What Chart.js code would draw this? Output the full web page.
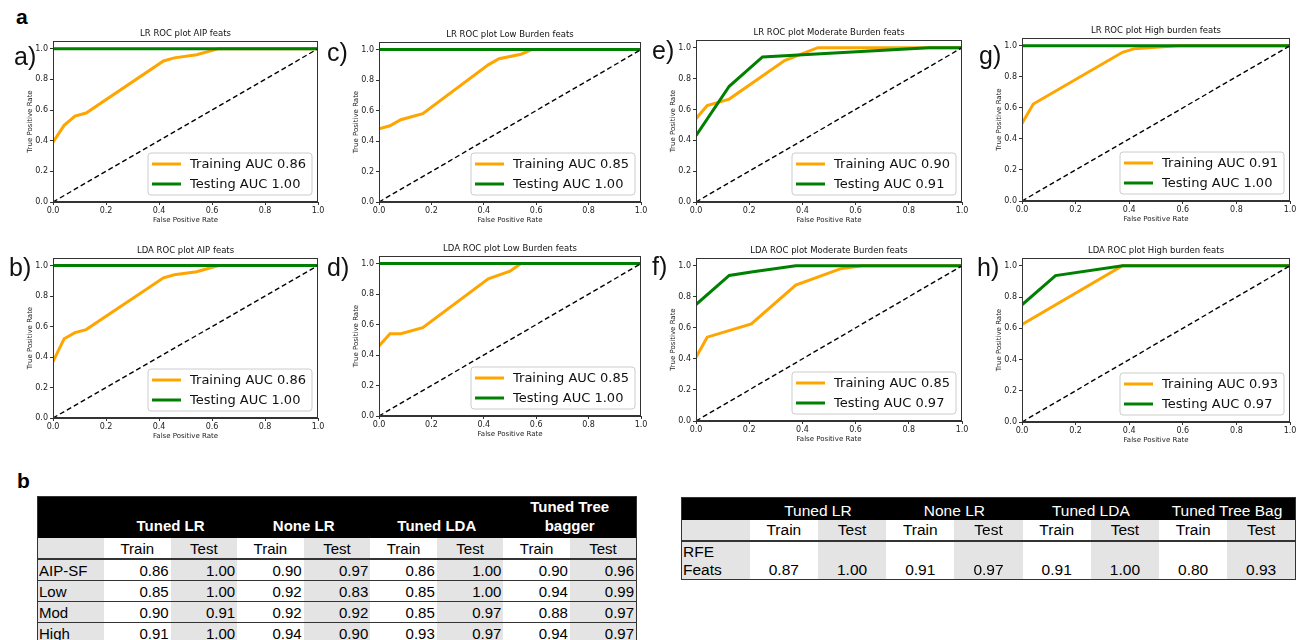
<!DOCTYPE html>
<html>
<head>
<meta charset="utf-8">
<script src="https://cdn.jsdelivr.net/npm/chart.js@4.4.1/dist/chart.umd.min.js"></script>
<style>
body { margin:0; background:#fff; width:1308px; height:640px; overflow:hidden; position:relative; font-family:"Liberation Sans", Arial, sans-serif; }
.pane { position:absolute; }
.pane canvas { display:block; }
.tag { position:absolute; font-size:25px; line-height:1; color:#111; }
.sec { position:absolute; font-size:21px; line-height:1; font-weight:bold; color:#000; }
table { position:absolute; border-collapse:collapse; table-layout:fixed; border:1.5px solid #333; color:#000; }
td { padding:0 2px; overflow:hidden; white-space:nowrap; }
.hd td { background:#000; color:#fff; text-align:center; vertical-align:bottom; }
.sub td { text-align:center; border-bottom:2px solid #333; }
.gray { background:#e4e4e4; }
#tblB td { font-size:15px; }
#tblB .hd td { font-weight:bold; line-height:19px; padding-bottom:3px; white-space:pre-line; }
#tblB .row td { border-bottom:1px solid #333; text-align:right; height:20px; }
#tblB .row td.name { text-align:left; padding-left:1px; }
#tblC td { font-size:15.5px; }
#tblC .hd td { height:22px; }
#tblC .row td { text-align:center; vertical-align:bottom; height:37px; line-height:18px; }
#tblC .row td.name { text-align:left; padding-left:1px; white-space:pre-line; }
</style>
</head>
<body>
<div class="sec" style="left:16px;top:6px;">a</div>
<div class="sec" style="left:17px;top:470px;">b</div>

<script>
// ROC curves (false positive rate, true positive rate)
const tickVals = [0, 0.2, 0.4, 0.6, 0.8, 1.0];
const chanceLine = [0, 1];

const lrAipTrainFpr = [0, 0.042, 0.083, 0.125, 0.417, 0.458, 0.542, 0.625, 1];
const lrAipTrainTpr = [0.39, 0.50, 0.56, 0.58, 0.92, 0.94, 0.96, 1, 1];
const lrAipTestFpr = [0, 1];
const lrAipTestTpr = [1, 1];

const lrLowTrainFpr = [0, 0.042, 0.083, 0.167, 0.417, 0.458, 0.542, 0.583, 1];
const lrLowTrainTpr = [0.48, 0.50, 0.54, 0.58, 0.90, 0.94, 0.97, 1, 1];
const lrLowTestFpr = [0, 1];
const lrLowTestTpr = [1, 1];

const lrModTrainFpr = [0, 0.042, 0.125, 0.333, 0.458, 1];
const lrModTrainTpr = [0.54, 0.625, 0.667, 0.917, 1, 1];
const lrModTestFpr = [0, 0.125, 0.25, 0.875, 1];
const lrModTestTpr = [0.43, 0.75, 0.94, 1, 1];

const lrHighTrainFpr = [0, 0.042, 0.375, 0.417, 0.583, 1];
const lrHighTrainTpr = [0.50, 0.625, 0.958, 0.98, 1, 1];
const lrHighTestFpr = [0, 1];
const lrHighTestTpr = [1, 1];

const ldaAipTrainFpr = [0, 0.042, 0.083, 0.125, 0.417, 0.458, 0.542, 0.625, 1];
const ldaAipTrainTpr = [0.37, 0.52, 0.56, 0.58, 0.92, 0.94, 0.96, 1, 1];
const ldaAipTestFpr = [0, 1];
const ldaAipTestTpr = [1, 1];

const ldaLowTrainFpr = [0, 0.042, 0.083, 0.167, 0.417, 0.5, 0.542, 1];
const ldaLowTrainTpr = [0.46, 0.54, 0.54, 0.58, 0.90, 0.95, 1, 1];
const ldaLowTestFpr = [0, 1];
const ldaLowTestTpr = [1, 1];

const ldaModTrainFpr = [0, 0.042, 0.208, 0.375, 0.542, 0.625, 1];
const ldaModTrainTpr = [0.41, 0.54, 0.625, 0.875, 0.98, 1, 1];
const ldaModTestFpr = [0, 0.125, 0.208, 0.375, 1];
const ldaModTestTpr = [0.75, 0.9375, 0.96, 1, 1];

const ldaHighTrainFpr = [0, 0.375, 1];
const ldaHighTrainTpr = [0.625, 1, 1];
const ldaHighTestFpr = [0, 0.125, 0.375, 1];
const ldaHighTestTpr = [0.75, 0.9375, 1, 1];

const trainAuc = [0.86, 0.85, 0.90, 0.91, 0.86, 0.85, 0.85, 0.93];
const testAuc  = [1.00, 1.00, 0.91, 1.00, 1.00, 1.00, 0.97, 0.97];

// table b (left)
const modelNames = ['Tuned LR', 'None LR', 'Tuned LDA', 'Tuned Tree\nbagger'];
const splitNames = ['Train', 'Test'];
const featSets = ['AIP-SF', 'Low', 'Mod', 'High'];
const aipRow  = [0.86, 1.00, 0.90, 0.97, 0.86, 1.00, 0.90, 0.96];
const lowRow  = [0.85, 1.00, 0.92, 0.83, 0.85, 1.00, 0.94, 0.99];
const modRow  = [0.90, 0.91, 0.92, 0.92, 0.85, 0.97, 0.88, 0.97];
const highRow = [0.91, 1.00, 0.94, 0.90, 0.93, 0.97, 0.94, 0.97];

// table b (right)
const rfeModelNames = ['Tuned LR', 'None LR', 'Tuned LDA', 'Tuned Tree Bag'];
const rfeName = 'RFE\nFeats';
const rfeRow = [0.87, 1.00, 0.91, 0.97, 0.91, 1.00, 0.80, 0.93];

const pts = (xs, ys) => xs.map((x, i) => ({ x: x, y: ys[i] }));

const panels = [
  { tag:'a)', title:'LR ROC plot AIP feats', x0:53, x1:318, yt:41, yb:202, lx:14, ly:44, tr:[lrAipTrainFpr, lrAipTrainTpr], te:[lrAipTestFpr, lrAipTestTpr] },
  { tag:'c)', title:'LR ROC plot Low Burden feats', x0:379, x1:641, yt:42, yb:202, lx:327, ly:40, tr:[lrLowTrainFpr, lrLowTrainTpr], te:[lrLowTestFpr, lrLowTestTpr] },
  { tag:'e)', title:'LR ROC plot Moderate Burden feats', x0:696, x1:962, yt:40, yb:202, lx:652, ly:38, tr:[lrModTrainFpr, lrModTrainTpr], te:[lrModTestFpr, lrModTestTpr] },
  { tag:'g)', title:'LR ROC plot High burden feats', x0:1022, x1:1290, yt:38, yb:201, lx:979, ly:43, tr:[lrHighTrainFpr, lrHighTrainTpr], te:[lrHighTestFpr, lrHighTestTpr] },
  { tag:'b)', title:'LDA ROC plot AIP feats', x0:53, x1:318, yt:258, yb:418, lx:9, ly:255, tr:[ldaAipTrainFpr, ldaAipTrainTpr], te:[ldaAipTestFpr, ldaAipTestTpr] },
  { tag:'d)', title:'LDA ROC plot Low Burden feats', x0:379, x1:641, yt:256, yb:416, lx:327, ly:255, tr:[ldaLowTrainFpr, ldaLowTrainTpr], te:[ldaLowTestFpr, ldaLowTestTpr] },
  { tag:'f)', title:'LDA ROC plot Moderate Burden feats', x0:696, x1:962, yt:258, yb:421, lx:652, ly:254, tr:[ldaModTrainFpr, ldaModTrainTpr], te:[ldaModTestFpr, ldaModTestTpr] },
  { tag:'h)', title:'LDA ROC plot High burden feats', x0:1022, x1:1290, yt:258, yb:422, lx:977, ly:255, tr:[ldaHighTrainFpr, ldaHighTrainTpr], te:[ldaHighTestFpr, ldaHighTestTpr] }
];

const PAD_L = 27, PAD_R = 10, PAD_T = 16, PAD_B = 22;
const FONT = '"DejaVu Sans", sans-serif';

// axes frame, plot title and the in-plot legend, matplotlib style
const mplBits = {
  id: 'mplBits',
  afterDatasetsDraw(chart, args, opts) {
    const ctx = chart.ctx, a = chart.chartArea;
    ctx.save();
    // legend
    const items = chart.data.datasets.filter(d => d.inLegend);
    ctx.font = '13px ' + FONT;
    const tw = Math.max(...items.map(d => ctx.measureText(d.label).width));
    const bw = 4 + 29 + 9 + tw + 6, bh = 42;
    const bx = a.right - 6 - bw, by = a.bottom - 7 - bh;
    ctx.beginPath();
    ctx.roundRect(bx, by, bw, bh, 3);
    ctx.fillStyle = 'rgba(255,255,255,0.85)';
    ctx.fill();
    ctx.strokeStyle = '#cccccc';
    ctx.lineWidth = 1;
    ctx.stroke();
    items.forEach((d, i) => {
      const yy = by + 11 + i * 20;
      ctx.beginPath();
      ctx.moveTo(bx + 4, yy);
      ctx.lineTo(bx + 33, yy);
      ctx.strokeStyle = d.borderColor;
      ctx.lineWidth = 3;
      ctx.stroke();
      ctx.fillStyle = '#111';
      ctx.textBaseline = 'middle';
      ctx.textAlign = 'left';
      ctx.fillText(d.label, bx + 42, yy + 1);
    });
    // frame
    ctx.strokeStyle = '#333';
    ctx.lineWidth = 1;
    ctx.strokeRect(a.left + 0.5, a.top + 0.5, a.right - a.left - 1, a.bottom - a.top - 1);
    // title
    ctx.fillStyle = '#111';
    ctx.font = '8.5px ' + FONT;
    ctx.textAlign = 'center';
    ctx.textBaseline = 'alphabetic';
    ctx.fillText(opts.text, (a.left + a.right) / 2, a.top - 5);
    ctx.restore();
  }
};

panels.forEach((p, k) => {
  const w = p.x1 - p.x0 + PAD_L + PAD_R;
  const h = p.yb - p.yt + PAD_T + PAD_B;
  const div = document.createElement('div');
  div.className = 'pane';
  div.style.left = (p.x0 - PAD_L) + 'px';
  div.style.top = (p.yt - PAD_T) + 'px';
  const cv = document.createElement('canvas');
  cv.width = w;
  cv.height = h;
  div.appendChild(cv);
  document.body.appendChild(div);

  const tag = document.createElement('div');
  tag.className = 'tag';
  tag.style.left = p.lx + 'px';
  tag.style.top = p.ly + 'px';
  tag.textContent = p.tag;
  document.body.appendChild(tag);

  new Chart(cv, {
    type: 'line',
    data: {
      datasets: [
        { label: 'Training AUC ' + trainAuc[k].toFixed(2), inLegend: true, data: pts(p.tr[0], p.tr[1]),
          borderColor: '#ffa500', borderWidth: 3, order: 2 },
        { label: 'Testing AUC ' + testAuc[k].toFixed(2), inLegend: true, data: pts(p.te[0], p.te[1]),
          borderColor: '#008000', borderWidth: 3, order: 1 },
        { label: 'chance', data: pts(chanceLine, chanceLine),
          borderColor: '#000', borderWidth: 1.4, borderDash: [5, 3], order: 0 }
      ]
    },
    options: {
      responsive: false,
      animation: false,
      events: [],
      elements: { point: { radius: 0 }, line: { tension: 0, borderCapStyle: 'butt' } },
      layout: { padding: { left: 0, right: PAD_R, top: PAD_T, bottom: 0 } },
      plugins: { legend: { display: false }, tooltip: { enabled: false }, mplBits: { text: p.title } },
      scales: {
        x: {
          type: 'linear', min: 0, max: 1,
          afterBuildTicks: s => { s.ticks = tickVals.map(v => ({ value: v })); },
          afterFit: s => { s.height = PAD_B; },
          ticks: { callback: v => v.toFixed(1), font: { family: FONT, size: 8 }, color: '#222', padding: 1, maxRotation: 0, autoSkip: false },
          grid: { drawOnChartArea: false, tickLength: 3, color: '#333' },
          border: { color: '#333' },
          title: { display: true, text: 'False Positive Rate', font: { family: FONT, size: 7 }, color: '#222', padding: 0 }
        },
        y: {
          type: 'linear', min: 0, max: 1.05,
          afterBuildTicks: s => { s.ticks = tickVals.map(v => ({ value: v })); },
          afterFit: s => { s.width = PAD_L; },
          ticks: { callback: v => v.toFixed(1), font: { family: FONT, size: 8 }, color: '#222', padding: 2, autoSkip: false },
          grid: { drawOnChartArea: false, tickLength: 3, color: '#333' },
          border: { color: '#333' },
          title: { display: true, text: 'True Positive Rate', font: { family: FONT, size: 7 }, color: '#222', padding: 0 }
        }
      }
    },
    plugins: [mplBits]
  });
});

// tables
function cell(tr, text, cls, span) {
  const td = document.createElement('td');
  td.textContent = text;
  if (cls) td.className = cls;
  if (span) td.colSpan = span;
  tr.appendChild(td);
  return td;
}

function buildTable(id, left, top, width, models, rows) {
  const t = document.createElement('table');
  t.id = id;
  t.style.left = left + 'px';
  t.style.top = top + 'px';
  t.style.width = width + 'px';
  const cg = document.createElement('colgroup');
  for (let i = 0; i < 9; i++) cg.appendChild(document.createElement('col'));
  t.appendChild(cg);
  const hd = document.createElement('tr');
  hd.className = 'hd';
  cell(hd, '');
  models.forEach(m => cell(hd, m, '', 2));
  t.appendChild(hd);
  const sub = document.createElement('tr');
  sub.className = 'sub';
  cell(sub, '', 'gray');
  models.forEach(() => splitNames.forEach((s, j) => cell(sub, s, j ? 'gray' : '')));
  t.appendChild(sub);
  rows.forEach(r => {
    const tr = document.createElement('tr');
    tr.className = 'row';
    cell(tr, r[0], 'name gray');
    r[1].forEach((v, j) => cell(tr, v.toFixed(2), j % 2 ? 'gray' : ''));
    t.appendChild(tr);
  });
  document.body.appendChild(t);
  return t;
}

const tb = buildTable('tblB', 37, 496, 600, modelNames,
  [[featSets[0], aipRow], [featSets[1], lowRow], [featSets[2], modRow], [featSets[3], highRow]]);
tb.rows[0].cells[0].style.height = '36px';
tb.rows[1].cells[0].style.height = '20px';

const tc = buildTable('tblC', 681, 497, 615, rfeModelNames, [[rfeName, rfeRow]]);
tc.rows[1].cells[0].style.height = '20px';
</script>
</body>
</html>
